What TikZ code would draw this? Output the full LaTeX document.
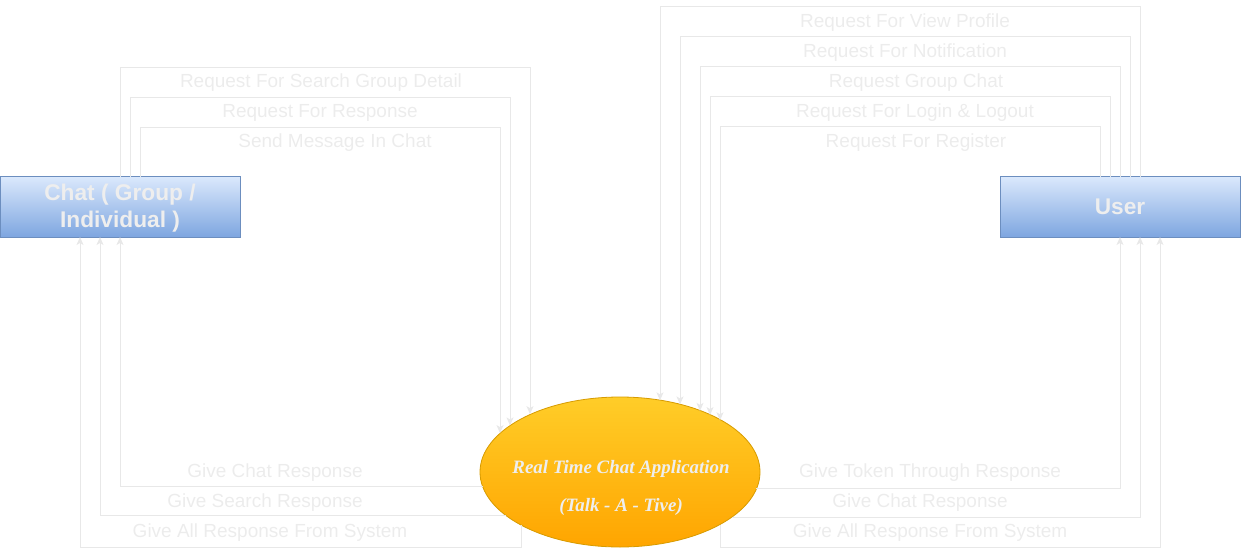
\documentclass[tikz,border=0pt]{standalone}
\usepackage{fontspec}
\setmainfont{Liberation Sans}
\newfontfamily\procfont{Liberation Serif}
\usetikzlibrary{arrows.meta,shapes.geometric}
\definecolor{lineg}{HTML}{E8E8E8}
\definecolor{txtg}{HTML}{ECECEC}
\definecolor{boxtop}{HTML}{DAE8FC}
\definecolor{boxbot}{HTML}{7EA6E0}
\definecolor{boxdraw}{HTML}{6C8EBF}
\definecolor{proctop}{HTML}{FFCD28}
\definecolor{procbot}{HTML}{FFA500}
\definecolor{procdraw}{HTML}{D79B00}
\definecolor{whitetxt}{HTML}{EEEEEE}
\begin{document}
\begin{tikzpicture}[x=1pt,y=-1pt,
  entity/.style={draw=boxdraw, line width=1pt, top color=boxtop, bottom color=boxbot,
    minimum width=240pt, minimum height=60pt, inner sep=0pt, outer sep=0pt,
    align=center, text=whitetxt, font=\fontsize{22.7}{27}\selectfont\bfseries},
  proc/.style={ellipse, draw=procdraw, line width=0.8pt, top color=proctop, bottom color=procbot,
    minimum width=280pt, minimum height=150pt, inner sep=0pt, outer sep=0pt},
  proclbl/.style={align=center, text=whitetxt, inner sep=0pt,
    font=\procfont\fontsize{18.9}{38}\selectfont\bfseries\itshape},
  flow/.style={draw=lineg, line width=1pt, -{Stealth[length=8pt,width=7pt,inset=2pt]}},
  lbl/.style={text=txtg, inner sep=0pt, font=\fontsize{19}{22}\selectfont}]
\useasboundingbox (0,0) rectangle (1241,556);

% entities and process
\node[entity] (chat) at (120,207) {\raisebox{-2pt}[\height][\depth]{\begin{tabular}{@{}c@{}}Chat ( Group /\\ Individual )\end{tabular}}};
\node[entity] (user) at (1120,207) {User};
\node[proc] (proc) at (620,472) {};
\node[proclbl] (proctxt) at (621,488) {Real Time Chat Application\\(Talk - A - Tive)};

% corner coordinates
\coordinate (cl1) at (530,68);
\coordinate (cl2) at (510,98);
\coordinate (cl3) at (500,128);
\coordinate (cr1) at (660,7);
\coordinate (cr2) at (680,37);
\coordinate (cr3) at (700,67);
\coordinate (cr4) at (710,97);
\coordinate (cr5) at (720,127);
\coordinate (la) at (521,547);
\coordinate (ra) at (720,547);

% left requests
\draw[flow] (chat.north) |- (cl1) -- (cl1 |- proc.147.5);
\draw[flow] ([xshift=10pt]chat.north) |- (cl2) -- (cl2 |- proc.157.1);
\draw[flow] ([xshift=20pt]chat.north) |- (cl3) -- (cl3 |- proc.162.2);

% right requests
\draw[flow] ([xshift=20pt]user.north) |- (cr1) -- (cr1 |- proc.60.9);
\draw[flow] ([xshift=10pt]user.north) |- (cr2) -- (cr2 |- proc.48.5);
\draw[flow] (user.north) |- (cr3) -- (cr3 |- proc.37.6);
\draw[flow] ([xshift=-10pt]user.north) |- (cr4) -- (cr4 |- proc.32.5);
\draw[flow] ([xshift=-20pt]user.north) |- (cr5) -- (cr5 |- proc.27.7);

% left responses
\draw[flow] (proc.186.2) -| (chat.south);
\draw[flow] (proc.201.9) -| ([xshift=-20pt]chat.south);
\draw[flow] (la |- proc.208.2) -- (la) -| ([xshift=-40pt]chat.south);

% right responses
\draw[flow] (proc.353.8) -| (user.south);
\draw[flow] (proc.338.1) -| ([xshift=20pt]user.south);
\draw[flow] (ra |- proc.332.3) -- (ra) -| ([xshift=40pt]user.south);

% labels
\node[lbl] (tl1) at (321,83) {Request For Search Group Detail};
\node[lbl] (tl2) at (320,113) {Request For Response};
\node[lbl] (tl3) at (335,143) {Send Message In Chat};
\node[lbl] (tr1) at (905,23) {Request For View Profile};
\node[lbl] (tr2) at (905,53) {Request For Notification};
\node[lbl] (tr3) at (916,83) {Request Group Chat};
\node[lbl] (tr4) at (915,113) {Request For Login \& Logout};
\node[lbl] (tr5) at (916,143) {Request For Register};
\node[lbl] (bl1) at (275,473) {Give Chat Response};
\node[lbl] (bl2) at (265,503) {Give Search Response};
\node[lbl] (bl3) at (270,533) {Give All Response From System};
\node[lbl] (br1) at (930,473) {Give Token Through Response};
\node[lbl] (br2) at (920,503) {Give Chat Response};
\node[lbl] (br3) at (930,533) {Give All Response From System};
\end{tikzpicture}
\end{document}
